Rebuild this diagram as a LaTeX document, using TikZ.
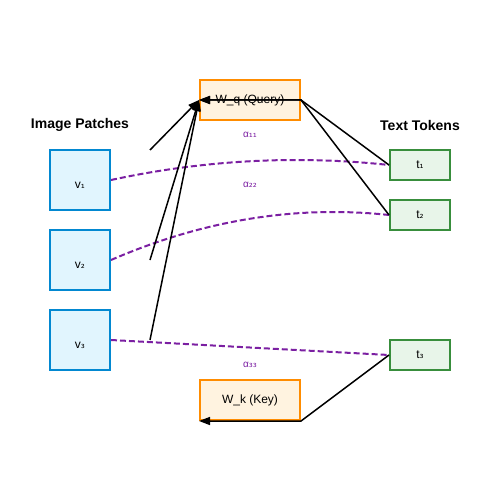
\documentclass[tikz,border=0pt]{standalone}
\usepackage{fontspec}
\setmainfont{Liberation Sans}
\newfontfamily\subfont{DejaVu Sans}
\usetikzlibrary{arrows.meta}
\definecolor{patchline}{HTML}{0288D1}
\definecolor{patchfill}{HTML}{E1F5FE}
\definecolor{projline}{HTML}{FF8C00}
\definecolor{projfill}{HTML}{FFF3E0}
\definecolor{tokline}{HTML}{388E3C}
\definecolor{tokfill}{HTML}{E8F5E9}
\definecolor{attnpurple}{HTML}{7B1FA2}
\newcommand{\sub}[1]{{\subfont\fontsize{10}{12}\selectfont #1}}
\begin{document}
\begin{tikzpicture}[x=1pt,y=-1pt,
  patchbox/.style={draw=patchline, fill=patchfill, line width=2pt, minimum width=60pt, minimum height=60pt, inner sep=0pt},
  projbox/.style={draw=projline, fill=projfill, line width=2pt, minimum width=100pt, minimum height=40pt, inner sep=0pt},
  tokbox/.style={draw=tokline, fill=tokfill, line width=2pt, minimum width=60pt, minimum height=30pt, inner sep=0pt},
  lbl/.style={font=\fontsize{12}{14}\selectfont, inner sep=0pt},
  title/.style={font=\fontsize{14}{16}\selectfont\bfseries},
  alphalbl/.style={font=\fontsize{10}{12}\selectfont, text=attnpurple, inner sep=0pt},
  link/.style={line width=1.5pt, -{Triangle[length=11pt,width=8pt]}},
  attn/.style={draw=attnpurple, line width=2pt, dash pattern=on 6pt off 3pt}]
\useasboundingbox (0,0) rectangle (500,500);
% titles
\node[title] (imgtitle) at (80,125) {Image Patches};
\node[title] (txttitle) at (420,125) {Text Tokens};
% image patches
\node[patchbox] (v1) at (80,180) {};
\node[patchbox] (v2) at (80,260) {};
\node[patchbox] (v3) at (80,340) {};
\node[lbl] (v1lbl) at ([yshift=-5pt]v1.center) {v\sub{₁}};
\node[lbl] (v2lbl) at ([yshift=-5pt]v2.center) {v\sub{₂}};
\node[lbl] (v3lbl) at ([yshift=-5pt]v3.center) {v\sub{₃}};
% text tokens
\node[tokbox] (t1) at (420,165) {};
\node[tokbox] (t2) at (420,215) {};
\node[tokbox] (t3) at (420,355) {};
\node[lbl] (t1lbl) at (t1.center) {t\sub{₁}};
\node[lbl] (t2lbl) at (t2.center) {t\sub{₂}};
\node[lbl] (t3lbl) at (t3.center) {t\sub{₃}};
% projections
\node[projbox] (wq) at (250,100) {};
\node[projbox] (wk) at (250,400) {};
\node[lbl] (wqlbl) at (wq.center) {W\_q (Query)};
\node[lbl] (wklbl) at (wk.center) {W\_k (Key)};
% attention weights
\node[alphalbl] (a11) at (250,135) {α\sub{₁₁}};
\node[alphalbl] (a22) at (250,185) {α\sub{₂₂}};
\node[alphalbl] (a33) at (250,365) {α\sub{₃₃}};
\draw[attn] (v1.east) .. controls (203.3,160) and (296.7,155) .. (t1.west);
\draw[attn] (v2.east) .. controls (203.3,220) and (296.7,205) .. (t2.west);
\draw[attn] (v3.east) -- (t3.west);
% query / key paths
\coordinate (q1) at (150,150);
\coordinate (q2) at (150,260);
\coordinate (q3) at (150,340);
\draw[link] (q1) -- (wq.west);
\draw[link] (q2) -- (wq.west);
\draw[link] (q3) -- (wq.west);
\draw[link] (t1.west) -- (wq.east) -- (wq.west);
\draw[link] (t2.west) -- (wq.east) -- (wq.west);
\draw[link] (t3.west) -- (wk.south east) -- (wk.south west);
\end{tikzpicture}
\end{document}
